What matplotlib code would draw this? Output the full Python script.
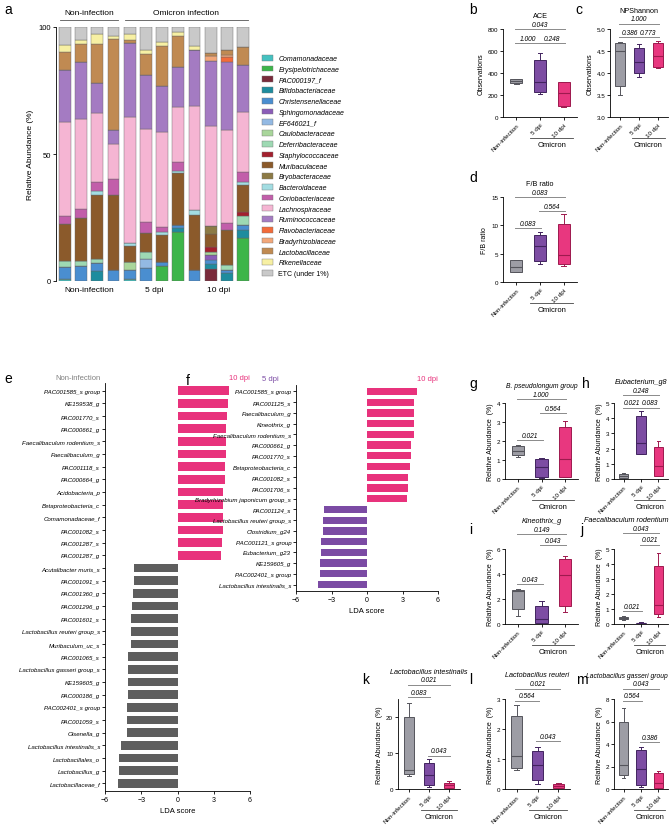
import matplotlib.pyplot as plt
from matplotlib.patches import Patch

plt.rcParams['font.family'] = ['Liberation Sans', 'DejaVu Sans']
plt.rcParams['axes.linewidth'] = 0.6
plt.rcParams['xtick.major.width'] = 0.6
plt.rcParams['ytick.major.width'] = 0.6
plt.rcParams['xtick.major.size'] = 2
plt.rcParams['ytick.major.size'] = 2
plt.rcParams['xtick.major.pad'] = 1.5
plt.rcParams['ytick.major.pad'] = 1.5

# ---------------- panel a: family composition (bottom -> top) ----------------
families = ['Comamonadaceae', 'Erysipelotrichaceae', 'PAC000197_f', 'Bifidobacteriaceae',
            'Christensenellaceae', 'Sphingomonadaceae', 'EF646021_f', 'Caulobacteraceae',
            'Deferribacteraceae', 'Staphylococcaceae', 'Muribaculaceae', 'Bryobacteraceae',
            'Bacteroidaceae', 'Coriobacteriaceae', 'Lachnospiraceae', 'Ruminococcaceae',
            'Flavobacteriaceae', 'Bradyrhizobiaceae', 'Lactobacillaceae', 'Rikenellaceae',
            'ETC (under 1%)']
fam_colors = ['#45C1C0', '#3DB54A', '#7A2A3A', '#1E8C9E', '#4A8ED0', '#8B5DB8',
              '#93B9E3', '#A9D69B', '#9ED9B3', '#A3202E', '#8B5A2B', '#8C7A45',
              '#A3DDE2', '#C25EAA', '#F5B5D3', '#A47BC2', '#F26B3A', '#F2A77A',
              '#C08A52', '#F7F0A3', '#C9C9C9']

comamonadaceae      = [0.8, 0, 0, 0, 0.6, 0, 0, 0, 0, 0, 0, 0]
erysipelotrichaceae = [0, 0, 0, 0, 0, 0, 5.9, 19.4, 0, 0, 0, 16.9]
pac000197_f         = [0, 0, 0, 0, 0, 0, 0, 0, 0, 4.7, 0, 0]
bifidobacteriaceae  = [0, 0, 3.9, 0, 0, 0, 0, 1.4, 0, 1.9, 3.1, 3.3]
christensenellaceae = [4.9, 5.9, 3.2, 4.5, 3.9, 5.3, 1.5, 1.4, 4.5, 1.7, 1.4, 1.8]
sphingomonadaceae   = [0, 0, 0, 0, 0, 0, 0, 0, 0, 1.9, 0, 0]
ef646021_f          = [0, 0, 0, 0, 0, 3.3, 0, 0, 0, 0, 0, 0]
caulobacteraceae    = [0, 0, 0, 0, 2.9, 0, 0, 0, 0, 1.4, 0, 0]
deferribacteraceae  = [2.0, 2.1, 1.5, 0, 0, 2.7, 0, 0, 0, 0, 1.8, 3.5]
staphylococcaceae   = [0, 0, 0, 0, 0, 0, 0, 0, 0, 1.8, 0, 1.7]
muribaculaceae      = [14.8, 16.8, 25.4, 29.5, 6.3, 7.6, 10.6, 20.4, 21.5, 5.0, 13.8, 10.7]
bryobacteraceae     = [0, 0, 0, 0, 0, 0, 0, 0, 0, 3.2, 0, 0]
bacteroidaceae      = [0, 0, 1.5, 0, 1.4, 0, 1.2, 0.9, 1.8, 0, 0, 1.2]
coriobacteriaceae   = [3.0, 3.6, 3.6, 6.0, 0, 4.5, 2.0, 3.3, 0, 0, 2.9, 3.8]
lachnospiraceae     = [37.1, 35.2, 27.1, 14.1, 49.3, 36.6, 37.3, 21.9, 41.1, 39.4, 36.5, 23.6]
ruminococcaceae     = [20.3, 22.5, 11.8, 5.4, 29.3, 21.1, 18.2, 15.6, 21.9, 25.6, 26.9, 18.6]
flavobacteriaceae   = [0, 0, 0, 0, 0, 0, 0, 0, 0, 0, 1.6, 0]
bradyrhizobiaceae   = [0, 0, 0, 0, 0, 0, 0, 0, 0, 1.8, 0.8, 0]
lactobacillaceae    = [7.3, 7.3, 15.5, 35.8, 1.2, 8.3, 15.8, 12.2, 0, 1.4, 2.0, 6.9]
rikenellaceae       = [2.9, 1.3, 3.8, 1.0, 2.4, 1.7, 1.7, 1.7, 1.8, 0, 0, 0]
etc_under1          = [6.9, 5.3, 2.7, 3.7, 2.7, 8.9, 5.8, 1.8, 7.4, 10.4, 9.2, 8.0]

stack = [comamonadaceae, erysipelotrichaceae, pac000197_f, bifidobacteriaceae,
         christensenellaceae, sphingomonadaceae, ef646021_f, caulobacteraceae,
         deferribacteraceae, staphylococcaceae, muribaculaceae, bryobacteraceae,
         bacteroidaceae, coriobacteriaceae, lachnospiraceae, ruminococcaceae,
         flavobacteriaceae, bradyrhizobiaceae, lactobacillaceae, rikenellaceae, etc_under1]

# ---------------- panel e / f: LDA scores ----------------
e_taxa = ['PAC001585_s group', 'KE159538_g', 'PAC001770_s', 'PAC000661_g',
          'Faecalibaculum rodentium_s', 'Faecalibaculum_g', 'PAC001118_s', 'PAC000664_g',
          'Acidobacteria_p', 'Betaproteobacteria_c', 'Comamonadaceae_f', 'PAC001082_s',
          'PAC001287_s', 'PAC001287_g', 'Acutalibacter muris_s', 'PAC001091_s',
          'PAC001360_g', 'PAC001296_g', 'PAC001601_s', 'Lactobacillus reuteri group_s',
          'Muribaculum_uc_s', 'PAC001065_s', 'Lactobacillus gasseri group_s', 'KE159605_g',
          'PAC000186_g', 'PAC002401_s group', 'PAC001059_s', 'Olsenella_g',
          'Lactobacillus intestinalis_s', 'Lactobacillales_o', 'Lactobacillus_g',
          'Lactobacillaceae_f']
e_lda = [4.29, 4.19, 4.07, 4.01, 4.01, 3.98, 3.94, 3.91, 3.79, 3.79, 3.76, 3.76, 3.66, 3.60,
         -3.61, -3.61, -3.71, -3.77, -3.83, -3.83, -3.87, -4.06, -4.06, -4.09, -4.12,
         -4.15, -4.22, -4.22, -4.66, -4.86, -4.86, -4.89]

f_taxa = ['PAC001585_s group', 'PAC001125_s', 'Faecalibaculum_g', 'Kineothrix_g',
          'Faecalibaculum rodentium_s', 'PAC000661_g', 'PAC001770_s', 'Betaproteobacteria_c',
          'PAC001082_s', 'PAC001706_s', 'Bradyrhizobium japonicum group_s', 'PAC001124_s',
          'Lactobacillus reuteri group_s', 'Clostridium_g24', 'PAC001121_s group',
          'Eubacterium_g23', 'KE159605_g', 'PAC002401_s group', 'Lactobacillus intestinalis_s']
f_lda = [4.19, 4.01, 3.98, 3.95, 3.95, 3.73, 3.70, 3.64, 3.49, 3.43, 3.40,
         -3.60, -3.70, -3.75, -3.85, -3.90, -3.93, -3.99, -4.15]

# ---------------- box panels: [whislo, q1, median, q3, whishi] per group ----------------
groups = ['Non-infection', '5 dpi', '10 dpi']
ace = [[300, 305, 329, 349, 349], [212, 227, 320, 518, 582], [93, 102, 218, 314, 320]]
npshannon = [[3.49, 3.70, 4.50, 4.68, 4.70], [3.90, 3.99, 4.26, 4.57, 4.67], [4.12, 4.13, 4.39, 4.69, 4.73]]
fb_ratio = [[1.7, 1.8, 2.6, 3.9, 3.9], [3.2, 3.7, 6.4, 8.3, 8.8], [2.8, 3.1, 4.8, 10.3, 12.0]]
pseudolongum = [[1.18, 1.25, 1.46, 1.74, 1.81], [0.05, 0.10, 0.62, 1.04, 1.10], [0.08, 0.10, 1.06, 2.72, 3.05]]
eubacterium_g8 = [[0.07, 0.09, 0.19, 0.33, 0.37], [1.63, 1.65, 2.39, 4.17, 4.50], [0.20, 0.22, 0.83, 2.09, 2.50]]
kineothrix = [[0.64, 1.18, 2.67, 2.74, 2.83], [0.02, 0.11, 0.41, 1.45, 1.86], [0.95, 1.47, 3.96, 5.20, 5.43]]
faecalibaculum = [[0.30, 0.34, 0.43, 0.49, 0.53], [0.02, 0.04, 0.08, 0.09, 0.11], [0.47, 0.68, 1.26, 3.85, 4.74]]
l_intestinalis = [[3.5, 4.1, 5.3, 20.0, 24.0], [0.5, 1.2, 3.9, 7.1, 8.3], [0.2, 0.3, 1.2, 1.8, 2.3]]
l_reuteri = [[0.64, 0.70, 1.09, 2.44, 2.80], [0.17, 0.30, 0.81, 1.26, 1.39], [0.02, 0.03, 0.10, 0.17, 0.19]]
l_gasseri = [[1.02, 1.26, 2.13, 5.96, 7.16], [0.21, 0.36, 1.77, 3.50, 3.77], [0.03, 0.06, 0.51, 1.38, 1.59]]

# significance brackets: (from group, to group, height, p)
ace_sig = [(0, 1, 669, '1.000'), (1, 2, 669, '0.248'), (0, 2, 800, '0.043')]
npshannon_sig = [(0, 1, 4.82, '0.386'), (1, 2, 4.82, '0.773'), (0, 2, 5.12, '1.000')]
fb_sig = [(0, 1, 9.5, '0.083'), (1, 2, 12.5, '0.564'), (0, 2, 15.0, '0.083')]
pseudolongum_sig = [(0, 1, 2.04, '0.021'), (1, 2, 3.47, '0.564'), (0, 2, 4.2, '1.000')]
eubacterium_sig = [(0, 1, 4.69, '0.021'), (1, 2, 4.69, '0.083'), (0, 2, 5.5, '0.248')]
kineothrix_sig = [(0, 1, 3.17, '0.043'), (1, 2, 6.3, '0.043'), (0, 2, 7.2, '0.149')]
faecalibaculum_sig = [(0, 1, 0.87, '0.021'), (1, 2, 5.3, '0.021'), (0, 2, 6.05, '0.043')]
intestinalis_sig = [(0, 1, 25.5, '0.083'), (1, 2, 9.3, '0.043'), (0, 2, 29.0, '0.021')]
reuteri_sig = [(0, 1, 2.94, '0.564'), (1, 2, 1.6, '0.043'), (0, 2, 3.35, '0.021')]
gasseri_sig = [(0, 1, 7.84, '0.564'), (1, 2, 4.16, '0.386'), (0, 2, 8.9, '0.043')]

PINK = '#E8327C'
PURPLE = '#7B4BA4'
GREY_BAR = '#5E5E5E'
box_face = ['#9D9DA5', '#7D4DA3', '#E8377F']
box_edge = ['#55555C', '#42245F', '#9E1A4E']

W, H = 669, 837
fig = plt.figure(figsize=(W / 100, H / 100), dpi=100)


def rect(x0, y0, x1, y1):
    return [x0 / W, 1 - y1 / H, (x1 - x0) / W, (y1 - y0) / H]


def letter(x, y, s):
    fig.text(x / W, 1 - y / H, s, fontsize=10, va='center', ha='left')


def clean(ax):
    ax.spines['top'].set_visible(False)
    ax.spines['right'].set_visible(False)


# ---------------- a ----------------
letter(4, 10, 'a')
ax = fig.add_axes(rect(56, 28, 252, 282))
pos = list(range(12))
bottom = [0] * 12
for vals, col in zip(stack, fam_colors):
    ax.bar(pos, vals, bottom=bottom, width=0.72, color=col, edgecolor='#666666', linewidth=0.3)
    bottom = [b + v for b, v in zip(bottom, vals)]
ax.set_xlim(-0.55, 11.55)
ax.set_ylim(0, 100)
ax.set_yticks([0, 50, 100])
ax.tick_params(labelsize=5.5)
ax.set_xticks([])
clean(ax)
ax.spines['bottom'].set_visible(False)
ax.set_ylabel('Relative Abundance (%)', fontsize=6, labelpad=3)
tr = ax.get_xaxis_transform()
ax.plot([-0.3, 3.3], [1.028, 1.028], transform=tr, color='#555555', lw=0.6, clip_on=False)
ax.plot([3.7, 11.3], [1.028, 1.028], transform=tr, color='#555555', lw=0.6, clip_on=False)
ax.text(1.5, 1.045, 'Non-infection', transform=tr, ha='center', va='bottom', fontsize=6)
ax.text(7.5, 1.045, 'Omicron infection', transform=tr, ha='center', va='bottom', fontsize=6)
for xc, lab in zip([1.5, 5.5, 9.5], ['Non-infection', '5 dpi', '10 dpi']):
    ax.text(xc, -0.02, lab, transform=tr, ha='center', va='top', fontsize=6)

handles = [Patch(facecolor=c, edgecolor='#777777', linewidth=0.3) for c in fam_colors]
leg = fig.legend(handles, families, loc='upper left', bbox_to_anchor=(259 / W, 1 - 53 / H),
                 frameon=False, fontsize=5, handlelength=1.6, handleheight=0.9,
                 labelspacing=0.5, handletextpad=0.8, borderaxespad=0)
for t in leg.get_texts()[:-1]:
    t.set_style('italic')


# ---------------- box panels ----------------
def box_panel(r, let, let_x, title, data, sig, ylim, yticks, ylabel, italic_title,
              tloc='center', tsize=5.2):
    x0, y0, x1, y1 = r
    letter(let_x, y0 - 20, let)
    ax = fig.add_axes(rect(*r))
    stats = [dict(whislo=d[0], q1=d[1], med=d[2], q3=d[3], whishi=d[4], fliers=[]) for d in data]
    bp = ax.bxp(stats, positions=[0, 1, 2], widths=0.52, patch_artist=True, showfliers=False)
    for i in range(3):
        bp['boxes'][i].set(facecolor=box_face[i], edgecolor=box_edge[i], linewidth=0.7)
        bp['medians'][i].set(color=box_edge[i], linewidth=0.8)
        for k in (2 * i, 2 * i + 1):
            bp['whiskers'][k].set(color=box_edge[i], linewidth=0.7)
            bp['caps'][k].set(color=box_edge[i], linewidth=0.7, xdata=[i - 0.1, i + 0.1])
    ax.set_xlim(-0.55, 2.55)
    ax.set_ylim(*ylim)
    ax.set_yticks(yticks)
    ax.set_xticks([0, 1, 2])
    ax.set_xticklabels(groups, rotation=45, ha='right', rotation_mode='anchor', fontsize=4.5)
    ax.tick_params(axis='y', labelsize=4.5)
    ax.set_ylabel(ylabel, fontsize=5, labelpad=2)
    clean(ax)
    hpx = y1 - y0
    top = max(s[2] for s in sig)
    over = max(0.0, (top - ylim[1]) / (ylim[1] - ylim[0]) * hpx)
    ax.set_title(title, fontsize=tsize, style='italic' if italic_title else 'normal',
                 pad=(over + 12) * 0.72, loc=tloc)
    for i, j, yy, p in sig:
        ax.plot([i - 0.05, j + 0.05], [yy, yy], color='#8A8A8A', lw=0.7, clip_on=False)
        ax.annotate(p, ((i + j) / 2, yy), xytext=(0, 1.0), textcoords='offset points',
                    ha='center', va='bottom', fontsize=4.8, style='italic', annotation_clip=False)
    tr = ax.get_xaxis_transform()
    ax.plot([0.6, 2.4], [-21 / hpx, -21 / hpx], transform=tr, color='#444444', lw=0.6, clip_on=False)
    ax.text(1.5, -24 / hpx, 'Omicron', transform=tr, ha='center', va='top', fontsize=5.5)
    return ax


RA = 'Relative Abundance  (%)'
box_panel((503, 30, 577, 118), 'b', 469, 'ACE', ace, ace_sig, (0, 800), [0, 200, 400, 600, 800], 'Observations', False)
box_panel((610, 30, 668, 118), 'c', 575, 'NPShannon', npshannon, npshannon_sig, (3.0, 5.0), [3.0, 3.5, 4.0, 4.5, 5.0], 'Observations', False)
box_panel((503, 198, 577, 283), 'd', 469, 'F/B ratio', fb_ratio, fb_sig, (0, 15), [0, 5, 10, 15], 'F/B ratio', False)
box_panel((505, 404, 578, 480), 'g', 469, 'B. pseudolongum group', pseudolongum, pseudolongum_sig, (0, 4), [0, 1, 2, 3, 4], RA, True, tsize=4.9)
box_panel((614, 404, 668, 480), 'h', 582, 'Eubacterium_g8', eubacterium_g8, eubacterium_sig, (0, 5), [0, 1, 2, 3, 4, 5], RA, True)
box_panel((505, 550, 578, 625), 'i', 469, 'Kineothrix_g', kineothrix, kineothrix_sig, (0, 6), [0, 2, 4, 6], RA, True)
box_panel((614, 550, 668, 625), 'j', 580, 'Faecalibaculum rodentium', faecalibaculum, faecalibaculum_sig, (0, 5), [0, 1, 2, 3, 4, 5], RA, True, 'right')
box_panel((398, 700, 460, 790), 'k', 362, 'Lactobacillus intestinalis', l_intestinalis, intestinalis_sig, (0, 25), [0, 10, 20], RA, True)
box_panel((505, 700, 570, 790), 'l', 469, 'Lactobacillus reuteri', l_reuteri, reuteri_sig, (0, 3), [0, 1, 2, 3], RA, True)
box_panel((614, 700, 668, 790), 'm', 576, 'Lactobacillus gasseri group', l_gasseri, gasseri_sig, (0, 8), [0, 2, 4, 6, 8], RA, True, 'right', 4.9)


# ---------------- LDA panels ----------------
def lda_panel(r, let, let_x, taxa, lda, neg_color, left_lab, left_col, left_x, right_x):
    letter(let_x, r[1] - 5, let)
    ax = fig.add_axes(rect(*r))
    ypos = list(range(len(taxa)))
    cols = [PINK if v > 0 else neg_color for v in lda]
    ax.barh(ypos, lda, height=0.68, color=cols)
    ax.set_yticks(ypos)
    ax.set_yticklabels(taxa, fontsize=4.4, style='italic')
    ax.set_ylim(len(taxa) - 0.4, -0.6)
    ax.set_xlim(-6, 6)
    ax.set_xticks([-6, -3, 0, 3, 6])
    ax.tick_params(axis='x', labelsize=5)
    ax.set_xlabel('LDA score', fontsize=5.5, labelpad=3)
    clean(ax)
    fig.text(left_x / W, 1 - (r[1] - 6) / H, left_lab, color=left_col, fontsize=5.5, ha='left', va='center')
    fig.text(right_x / W, 1 - (r[1] - 6) / H, '10 dpi', color=PINK, fontsize=5.5, ha='right', va='center')
    return ax


lda_panel((105, 384, 250, 792), 'e', 4, e_taxa, e_lda, GREY_BAR, 'Non-infection', '#808080', 55, 250)
lda_panel((296, 386, 438, 592), 'f', 186, f_taxa, f_lda, PURPLE, '5 dpi', PURPLE, 262, 438)

fig.savefig('out.png', dpi=100)
